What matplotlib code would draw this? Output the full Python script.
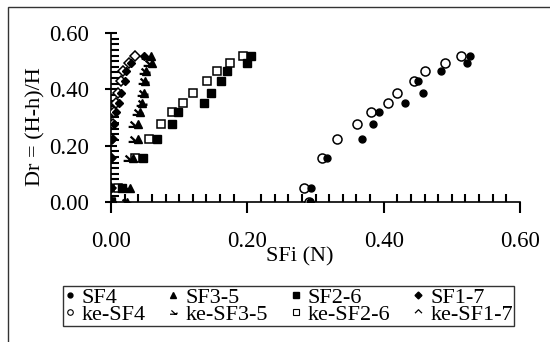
import matplotlib
matplotlib.use("Agg")
import matplotlib.pyplot as plt
from matplotlib.lines import Line2D
from matplotlib.patches import Rectangle
from matplotlib.path import Path
from matplotlib.ticker import MultipleLocator, FormatStrFormatter

plt.rcParams["font.family"] = ["Liberation Serif", "DejaVu Serif"]

# relative density Dr shared by every series
dr = [0.52, 0.495, 0.466, 0.428, 0.387, 0.353, 0.318, 0.276, 0.223, 0.155, 0.05, 0.0]

sf4 = [0.526, 0.522, 0.484, 0.451, 0.457, 0.432, 0.393, 0.385, 0.368, 0.317, 0.293, 0.292]
sf3_5 = [0.058, 0.060, 0.052, 0.050, 0.049, 0.046, 0.042, 0.040, 0.040, 0.032, 0.028, 0.024]
sf2_6 = [0.205, 0.200, 0.170, 0.161, 0.147, 0.137, 0.099, 0.089, 0.067, 0.047, 0.016, 0.0]
sf1_7 = [0.048, 0.030, 0.022, 0.020, 0.014, 0.012, 0.008, 0.005, 0.002, 0.0, 0.0, 0.0]

ke_sf4 = [0.513, 0.490, 0.460, 0.444, 0.420, 0.407, 0.382, 0.361, 0.331, 0.309, 0.283, 0.291]
ke_sf3_5 = [0.052, 0.055, 0.049, 0.047, 0.045, 0.044, 0.038, 0.033, 0.032, 0.025, 0.022, 0.020]
ke_sf2_6 = [0.193, 0.175, 0.156, 0.141, 0.121, 0.106, 0.090, 0.074, 0.056, 0.035, 0.010, 0.0]
ke_sf1_7 = [0.035, 0.027, 0.017, 0.015, 0.011, 0.008, 0.005, 0.003, 0.001, 0.0, 0.0, 0.0]

# odd Excel-ish markers for two of the ke series
ke35_marker = Path([(-0.6, 0.6), (0.6, -0.5), (-1.0, -0.5), (1.0, -0.5), (1.0, -0.5), (1.0, 0.0)],
                   [Path.MOVETO, Path.LINETO, Path.MOVETO, Path.LINETO, Path.MOVETO, Path.LINETO])
chevron = Path([(-1.0, -0.2), (0.0, 0.8), (1.0, -0.2)], [Path.MOVETO, Path.LINETO, Path.LINETO])

fig = plt.figure(figsize=(5.5, 3.42), dpi=100)
ax = fig.add_axes([0.2018, 0.4094, 0.7437, 0.4941])

# open (ke) series first so the filled ones sit on top
ax.plot(ke_sf4, dr, ls="none", marker="o", ms=6.5, mfc="white", mec="black", mew=1.1, zorder=3)
ax.plot(ke_sf3_5, dr, ls="none", marker=ke35_marker, ms=7, mfc="none", mec="black", mew=1.6, zorder=3)
ax.plot(ke_sf2_6, dr, ls="none", marker="s", ms=5.5, mfc="white", mec="black", mew=1.1, zorder=3)
ax.plot(ke_sf1_7, dr, ls="none", marker="D", ms=5, mfc="white", mec="black", mew=1.1, zorder=3)

ax.plot(sf4, dr, ls="none", marker="o", ms=5, color="black", zorder=4)
ax.plot(sf3_5, dr, ls="none", marker="^", ms=6, color="black", zorder=4)
ax.plot(sf2_6, dr, ls="none", marker="s", ms=5.5, color="black", zorder=4)
ax.plot(sf1_7, dr, ls="none", marker="D", ms=4.5, color="black", zorder=4)

ax.set_xlim(0, 0.6)
ax.set_ylim(0, 0.6)
ax.xaxis.set_major_locator(MultipleLocator(0.2))
ax.xaxis.set_minor_locator(MultipleLocator(0.02))
ax.yaxis.set_major_locator(MultipleLocator(0.2))
ax.yaxis.set_minor_locator(MultipleLocator(0.02))
ax.xaxis.set_major_formatter(FormatStrFormatter("%.2f"))
ax.yaxis.set_major_formatter(FormatStrFormatter("%.2f"))

ax.spines["top"].set_visible(False)
ax.spines["right"].set_visible(False)
ax.spines["left"].set_linewidth(1.2)
ax.spines["bottom"].set_linewidth(1.2)

ax.tick_params(which="major", length=8, width=1.5, labelsize=16.5)
ax.tick_params(which="minor", direction="in", length=6, width=1.5)
ax.tick_params(axis="x", which="major", direction="out", pad=13)
ax.tick_params(axis="y", which="major", direction="inout", pad=12)

ax.set_xlabel("SFi (N)", fontsize=16)
ax.set_ylabel("Dr = (H-h)/H", fontsize=16)
ax.xaxis.set_label_coords(0.462, -0.27)
ax.yaxis.set_label_coords(-0.16, 0.445)

handles = [
    Line2D([], [], ls="none", marker="o", ms=3.5, color="black"),
    Line2D([], [], ls="none", marker="o", ms=4, mfc="white", mec="black", mew=0.8),
    Line2D([], [], ls="none", marker="^", ms=4, color="black"),
    Line2D([], [], ls="none", marker=ke35_marker, ms=5, mfc="none", mec="black", mew=0.9),
    Line2D([], [], ls="none", marker="s", ms=4, color="black"),
    Line2D([], [], ls="none", marker="s", ms=4, mfc="white", mec="black", mew=0.8),
    Line2D([], [], ls="none", marker="D", ms=3.5, color="black"),
    Line2D([], [], ls="none", marker=chevron, ms=5, mfc="none", mec="black", mew=0.9),
]
labels = ["SF4", "ke-SF4", "SF3-5", "ke-SF3-5", "SF2-6", "ke-SF2-6", "SF1-7", "ke-SF1-7"]
leg = fig.legend(handles, labels, ncol=4, loc="lower left",
                 bbox_to_anchor=(0.1145, 0.0468, 0.82, 0.1345), bbox_transform=fig.transFigure,
                 mode="expand", borderaxespad=0, fontsize=16, frameon=True, fancybox=False,
                 handlelength=0.5, handletextpad=0.3, labelspacing=-0.15, borderpad=0.05,
                 columnspacing=0.3)
leg.get_frame().set_edgecolor("black")
leg.get_frame().set_linewidth(1.0)

# outer chart frame (only the top and left edges show)
fig.add_artist(Rectangle((0.0145, -0.2), 1.5, 0.9795 + 0.2, transform=fig.transFigure,
                         fill=False, edgecolor="#333333", linewidth=1.0, zorder=-1))

fig.savefig("out.png", dpi=100)
